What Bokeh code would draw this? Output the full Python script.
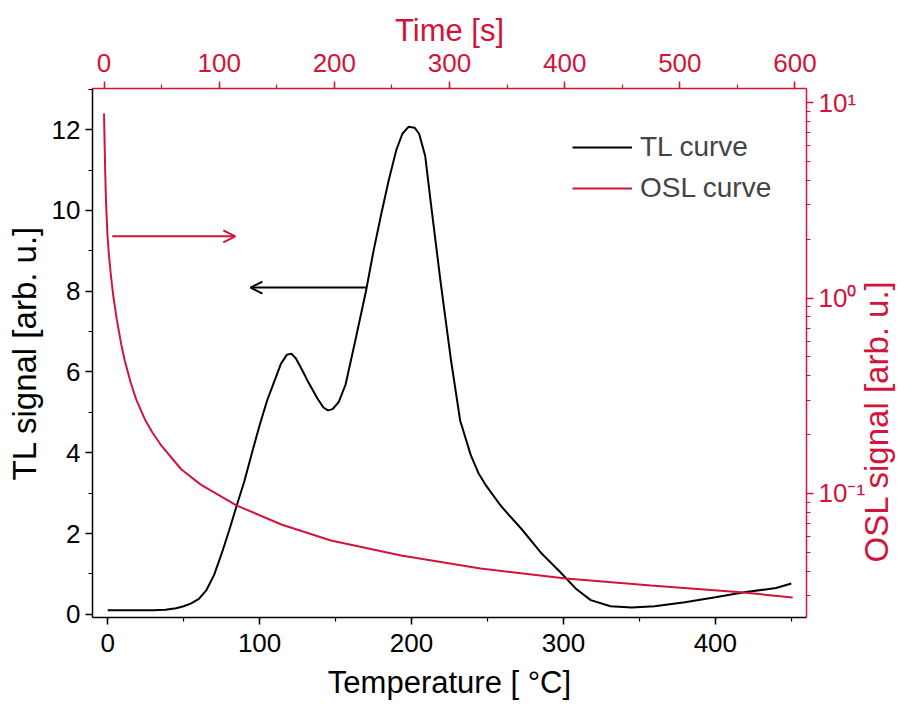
import math
from bokeh.plotting import figure
from bokeh.models import (Range1d, LinearAxis, LogAxis, LogScale, SingleIntervalTicker,
                          FixedTicker, CustomJSTickFormatter, Legend, LegendItem, Arrow,
                          OpenHead)
from bokeh.embed import file_html
from bokeh.resources import INLINE

# TL curve: temperature [°C] vs TL signal [arb. u.]
tl_temp = [0, 10, 20, 30, 38, 45, 50, 55, 60, 65, 70, 75, 80, 85, 90, 95, 100, 105, 110, 114,
           118, 121, 124, 128, 132, 138, 142, 145, 148, 152, 156.6, 163, 170, 175, 180, 185,
           190, 194, 198, 202, 205, 209, 212.5, 219, 226, 232, 239, 244, 249, 258.5, 265, 272,
           285, 298, 308, 318, 331, 345, 360, 380, 400, 420, 440, 450]
tl_signal = [0.1, 0.1, 0.1, 0.1, 0.11, 0.15, 0.2, 0.27, 0.38, 0.6, 0.97, 1.5, 2.08, 2.7, 3.3,
             4.0, 4.68, 5.3, 5.8, 6.2, 6.43, 6.45, 6.33, 6.05, 5.75, 5.35, 5.12, 5.05, 5.08,
             5.25, 5.69, 6.78, 8.0, 9.0, 9.9, 10.75, 11.5, 11.9, 12.07, 12.05, 11.9, 11.35,
             10.25, 8.27, 6.29, 4.8, 3.94, 3.5, 3.19, 2.7, 2.42, 2.13, 1.53, 1.04, 0.64, 0.35,
             0.2, 0.17, 0.2, 0.3, 0.42, 0.55, 0.65, 0.76]

# OSL curve: time [s] vs OSL signal [arb. u.]
osl_time = [0, 1, 1.7, 3, 4.3, 6, 8, 11, 15, 18, 23, 28, 36, 42, 50, 67, 84, 115, 154, 197,
            258, 327, 401, 475, 553, 598]
osl_signal = [8.79, 4.49, 3.15, 2.09, 1.65, 1.3, 1.03, 0.782, 0.577, 0.479, 0.372, 0.302, 0.236,
              0.205, 0.175, 0.133, 0.111, 0.0869, 0.0694, 0.0575, 0.0482, 0.0413, 0.0367,
              0.0338, 0.0312, 0.0294]

osl_major = [0.1, 1, 10]
osl_minor = [0.03, 0.04, 0.05, 0.06, 0.07, 0.08, 0.09,
             0.2, 0.3, 0.4, 0.5, 0.6, 0.7, 0.8, 0.9,
             2, 3, 4, 5, 6, 7, 8, 9]

RED = "#d2143c"
FONT = "Liberation Sans"
TICK_SIZE = "26px"
HLABEL_SIZE = "31px"
VLABEL_SIZE = "33px"

p = figure(frame_width=714, frame_height=529,
           min_border_left=92, min_border_right=107, min_border_top=88, min_border_bottom=92,
           x_range=Range1d(-10, 460), y_range=Range1d(-0.08, 13.02),
           output_backend="svg", toolbar_location=None)
p.outline_line_color = None
p.xgrid.grid_line_color = None
p.ygrid.grid_line_color = None
p.background_fill_color = "white"
p.border_fill_color = "white"

p.extra_x_ranges = {"time": Range1d(-10, 610)}
p.extra_y_ranges = {"osl": Range1d(0.0232, 11.8)}
p.extra_y_scales = {"osl": LogScale()}


def style_axis(ax, color, label_size, tick_standoff=5, label_standoff=6):
    ax.axis_line_color = color
    ax.axis_line_width = 1.5
    ax.major_tick_line_color = color
    ax.minor_tick_line_color = color
    ax.major_tick_line_width = 1.5
    ax.minor_tick_line_width = 1.2
    ax.major_tick_in = 0
    ax.major_tick_out = 7
    ax.minor_tick_in = 0
    ax.minor_tick_out = 4
    ax.major_label_text_color = color
    ax.major_label_text_font = FONT
    ax.major_label_text_font_size = TICK_SIZE
    ax.axis_label_text_color = color
    ax.axis_label_text_font = FONT
    ax.axis_label_text_font_size = label_size
    ax.axis_label_text_font_style = "normal"
    ax.major_label_standoff = tick_standoff
    ax.axis_label_standoff = label_standoff


bottom = p.xaxis[0]
bottom.ticker = SingleIntervalTicker(interval=100, num_minor_ticks=2)
bottom.axis_label = "Temperature [ \u00b0C]"
style_axis(bottom, "black", HLABEL_SIZE, tick_standoff=9, label_standoff=10)

left = p.yaxis[0]
left.ticker = SingleIntervalTicker(interval=2, num_minor_ticks=2)
left.axis_label = "TL signal [arb. u.]"
style_axis(left, "black", VLABEL_SIZE, label_standoff=6)

top = LinearAxis(x_range_name="time", axis_label="Time [s]",
                 ticker=SingleIntervalTicker(interval=100, num_minor_ticks=2))
style_axis(top, RED, HLABEL_SIZE, tick_standoff=10, label_standoff=3)
p.add_layout(top, "above")

sup_js = r"""
const sup = {"0":"\u2070","1":"\u00b9","2":"\u00b2","3":"\u00b3","4":"\u2074","5":"\u2075",
             "6":"\u2076","7":"\u2077","8":"\u2078","9":"\u2079","-":"\u207b"};
const e = Math.round(Math.log10(tick));
return "10" + String(e).split("").map(c => sup[c]).join("");
"""
right = LogAxis(y_range_name="osl", axis_label="OSL signal [arb. u.]",
                ticker=FixedTicker(ticks=osl_major, minor_ticks=osl_minor),
                formatter=CustomJSTickFormatter(code=sup_js))
style_axis(right, RED, VLABEL_SIZE, label_standoff=8)
# title reading bottom to top, as in the original, lifted a little off the bottom edge
props = right.properties()
if "axis_label_orientation" in props and "axis_label_align" in props:
    right.axis_label_orientation = math.pi / 2
    right.axis_label_align = "start"
    right.axis_label = "\u00a0" * 6 + "OSL signal [arb. u.]"
p.add_layout(right, "right")

tl = p.line(tl_temp, tl_signal, line_color="black", line_width=2)
osl = p.line(osl_time, osl_signal, line_color=RED, line_width=2,
             x_range_name="time", y_range_name="osl")

p.add_layout(Arrow(end=OpenHead(size=12, line_color=RED, line_width=2),
                   x_start=3, y_start=9.36, x_end=84, y_end=9.36,
                   line_color=RED, line_width=2))
p.add_layout(Arrow(end=OpenHead(size=12, line_color="black", line_width=2),
                   x_start=170, y_start=8.09, x_end=94, y_end=8.09,
                   line_color="black", line_width=2))

legend = Legend(items=[LegendItem(label="TL curve", renderers=[tl]),
                       LegendItem(label="OSL curve", renderers=[osl])],
                location=(480, 412))
legend.border_line_color = None
legend.background_fill_alpha = 0
legend.label_text_font = FONT
legend.label_text_font_size = "28px"
legend.glyph_width = 60
legend.glyph_height = 34
legend.label_height = 34
legend.label_standoff = 8
legend.spacing = 7
legend.padding = 0
legend.margin = 0
p.add_layout(legend)

open("out.html", "w").write(file_html(p, INLINE))
